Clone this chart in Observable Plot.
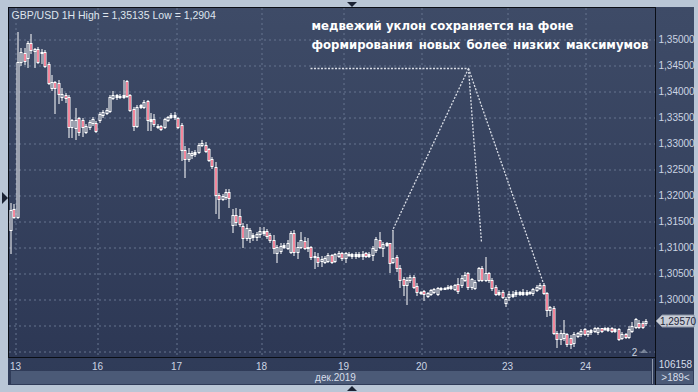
<!DOCTYPE html>
<html><head><meta charset="utf-8">
<script src="https://cdn.jsdelivr.net/npm/d3@7"></script>
<script src="https://cdn.jsdelivr.net/npm/@observablehq/plot@0.6"></script>
<style>
html,body{margin:0;padding:0;background:#b9c6d6;}
#wrap{position:relative;width:698px;height:392px;overflow:hidden;font-family:"Liberation Sans",Arial,sans-serif;}
.abs{position:absolute;}
#panel{left:8px;top:7px;width:686px;height:378px;background:linear-gradient(#3e4b67,#2f3b58);}
#plotbg{left:8px;top:7px;width:646px;height:349px;border:1px solid #0a0e16;background:linear-gradient(#3e4b67,#2d3855);}
#band{left:11px;top:371px;width:640px;height:13px;background:#4b5a77;}
#band2{left:656px;top:371px;width:37px;height:13px;background:#4b5a77;}
#sep{left:652px;top:359px;width:1px;height:25px;background:#8e98aa;}
#rline{left:655px;top:7px;width:1px;height:378px;background:#0a0e16;}
.tri{width:0;height:0;}
#chart{left:0;top:0;}
</style>
</head><body>
<div id="wrap">
  <div class="abs" id="panel"></div>
  <div class="abs" id="plotbg"></div>
  <div class="abs" id="band"></div>
  <div class="abs" id="band2"></div>
  <div class="abs" id="sep"></div>
  <div class="abs" id="rline"></div>
  <div class="abs tri" style="left:347px;top:2px;border-left:5px solid transparent;border-right:5px solid transparent;border-top:5px solid #1b2334;"></div>
  <div class="abs tri" style="left:2px;top:192px;border-top:6px solid transparent;border-bottom:6px solid transparent;border-left:6px solid #1b2334;"></div>
  <div class="abs tri" style="left:347px;top:386px;border-left:5px solid transparent;border-right:5px solid transparent;border-bottom:5px solid #1b2334;"></div>
  <div class="abs tri" style="left:640px;top:349px;border-left:4px solid transparent;border-right:4px solid transparent;border-bottom:4px solid #7d889b;"></div>
  <div class="abs" id="chart"></div>
</div>
<script>
// ---- data (GBP/USD, 1H bars, Dec 12–24 2019) ----
const open = [1.3131,1.3172,1.3157,1.3455,1.3472,1.3462,1.3491,1.3476,1.3480,1.3472,1.3474,1.3451,1.3405,1.3416,1.3414,1.3387,1.3391,1.3387,1.3330,1.3328,1.3347,1.3343,1.3320,1.3330,1.3337,1.3337,1.3343,1.3353,1.3357,1.3360,1.3386,1.3391,1.3387,1.3387,1.3418,1.3391,1.3364,1.3332,1.3368,1.3368,1.3380,1.3341,1.3345,1.3330,1.3332,1.3330,1.3343,1.3349,1.3349,1.3347,1.3334,1.3286,1.3268,1.3276,1.3278,1.3282,1.3295,1.3295,1.3288,1.3268,1.3253,1.3199,1.3191,1.3195,1.3205,1.3141,1.3160,1.3159,1.3139,1.3116,1.3116,1.3118,1.3118,1.3124,1.3130,1.3130,1.3122,1.3112,1.3088,1.3091,1.3099,1.3097,1.3089,1.3126,1.3089,1.3099,1.3111,1.3097,1.3099,1.3080,1.3080,1.3072,1.3070,1.3072,1.3084,1.3072,1.3082,1.3088,1.3078,1.3084,1.3086,1.3082,1.3086,1.3082,1.3088,1.3082,1.3084,1.3093,1.3112,1.3097,1.3103,1.3107,1.3070,1.3080,1.3059,1.3037,1.3026,1.3036,1.3041,1.3024,1.3011,1.3014,1.3005,1.3009,1.3012,1.3009,1.3018,1.3018,1.3020,1.3024,1.3018,1.3028,1.3026,1.3036,1.3049,1.3022,1.3020,1.3036,1.3059,1.3036,1.3049,1.3036,1.3022,1.3009,1.3012,1.2991,1.3003,1.3005,1.3009,1.3012,1.3009,1.3009,1.3012,1.3011,1.3016,1.3020,1.3026,1.3011,1.2978,1.2982,1.2934,1.2922,1.2924,1.2932,1.2924,1.2914,1.2928,1.2932,1.2941,1.2932,1.2936,1.2937,1.2936,1.2943,1.2941,1.2943,1.2943,1.2937,1.2941,1.2924,1.2932,1.2926,1.2937,1.2945,1.2953,1.2953,1.2953];
const high = [1.3184,1.3182,1.35135,1.3482,1.3482,1.3495,1.3509,1.3482,1.3484,1.3480,1.3478,1.3455,1.3430,1.3418,1.3420,1.3405,1.3395,1.3391,1.3345,1.3366,1.3349,1.3347,1.3336,1.3343,1.3349,1.3341,1.3359,1.3362,1.3366,1.3391,1.3399,1.3393,1.3393,1.3420,1.3420,1.3393,1.3368,1.3372,1.3374,1.3382,1.3382,1.3357,1.3355,1.3336,1.3334,1.3347,1.3351,1.3357,1.3359,1.3349,1.3337,1.3293,1.3289,1.3284,1.3286,1.3299,1.3305,1.3301,1.3289,1.3272,1.3263,1.3203,1.3201,1.3211,1.3211,1.3172,1.3174,1.3172,1.3145,1.3143,1.3136,1.3126,1.3128,1.3137,1.3137,1.3134,1.3126,1.3122,1.3103,1.3107,1.3107,1.3112,1.3130,1.3132,1.3109,1.3128,1.3118,1.3116,1.3101,1.3089,1.3088,1.3082,1.3082,1.3088,1.3086,1.3088,1.3091,1.3089,1.3089,1.3089,1.3088,1.3089,1.3089,1.3091,1.3089,1.3089,1.3101,1.3118,1.3128,1.3109,1.3109,1.3107,1.3132,1.3084,1.3064,1.3041,1.3041,1.3045,1.3045,1.3030,1.3014,1.3016,1.3012,1.3018,1.3020,1.3022,1.3022,1.3022,1.3026,1.3026,1.3028,1.3039,1.3045,1.3051,1.3051,1.3039,1.3036,1.3060,1.3062,1.3080,1.3051,1.3039,1.3026,1.3016,1.3016,1.3003,1.3014,1.3014,1.3016,1.3014,1.3018,1.3016,1.3014,1.3020,1.3026,1.3030,1.3030,1.3012,1.2986,1.2986,1.2937,1.2939,1.2959,1.2934,1.2930,1.2936,1.2936,1.2941,1.2943,1.2939,1.2941,1.2945,1.2945,1.2943,1.2945,1.2945,1.2945,1.2943,1.2943,1.2936,1.2934,1.2947,1.2955,1.2963,1.2959,1.2957,1.2961];
const low = [1.3088,1.3155,1.3155,1.3449,1.3451,1.3445,1.3472,1.3445,1.3453,1.3453,1.3445,1.3413,1.3401,1.3357,1.3376,1.3382,1.3378,1.3310,1.3310,1.3307,1.3314,1.3312,1.3318,1.3326,1.3334,1.3320,1.3339,1.3349,1.3355,1.3359,1.3384,1.3384,1.3386,1.3386,1.3387,1.3360,1.3324,1.3330,1.3366,1.3366,1.3324,1.3324,1.3332,1.3328,1.3324,1.3328,1.3341,1.3347,1.3345,1.3328,1.3266,1.3234,1.3264,1.3270,1.3274,1.3280,1.3293,1.3282,1.3264,1.3251,1.3164,1.3155,1.3189,1.3191,1.3176,1.3128,1.3141,1.3139,1.3099,1.3112,1.3109,1.3112,1.3112,1.3118,1.3122,1.3116,1.3109,1.3088,1.3070,1.3088,1.3097,1.3095,1.3088,1.3084,1.3078,1.3097,1.3095,1.3091,1.3076,1.3059,1.3062,1.3062,1.3068,1.3070,1.3068,1.3070,1.3080,1.3074,1.3070,1.3082,1.3078,1.3078,1.3080,1.3076,1.3080,1.3080,1.3074,1.3089,1.3097,1.3082,1.3101,1.3051,1.3068,1.3053,1.3022,1.3007,1.2989,1.3032,1.3020,1.3007,1.3009,1.2997,1.3003,1.3007,1.3011,1.3007,1.3016,1.3018,1.3018,1.3018,1.3016,1.3011,1.3022,1.3034,1.3018,1.3018,1.3018,1.3034,1.3034,1.3034,1.3032,1.3016,1.3007,1.3007,1.3001,1.2986,1.2997,1.3003,1.3005,1.3007,1.3007,1.3007,1.3009,1.3007,1.3014,1.3018,1.3009,1.2966,1.2968,1.2932,1.2907,1.2912,1.2920,1.2909,1.2905,1.2909,1.2926,1.2928,1.2930,1.2928,1.2932,1.2936,1.2932,1.2936,1.2939,1.2937,1.2936,1.2936,1.2920,1.2922,1.2924,1.2924,1.2936,1.2943,1.2943,1.2943,1.2949];
const close = [1.3170,1.3157,1.3455,1.3474,1.3457,1.3491,1.3478,1.3480,1.3455,1.3474,1.3447,1.3414,1.3416,1.3405,1.3393,1.3393,1.3386,1.3330,1.3343,1.3343,1.3320,1.3330,1.3332,1.3339,1.3345,1.3322,1.3355,1.3359,1.3362,1.3387,1.3391,1.3387,1.3389,1.3391,1.3389,1.3362,1.3332,1.3368,1.3372,1.3378,1.3343,1.3345,1.3336,1.3332,1.3326,1.3345,1.3349,1.3353,1.3353,1.3330,1.3286,1.3268,1.3280,1.3280,1.3282,1.3295,1.3299,1.3284,1.3266,1.3255,1.3199,1.3191,1.3197,1.3205,1.3193,1.3160,1.3147,1.3143,1.3116,1.3136,1.3132,1.3122,1.3124,1.3130,1.3126,1.3120,1.3112,1.3097,1.3099,1.3101,1.3103,1.3107,1.3126,1.3089,1.3099,1.3112,1.3097,1.3099,1.3080,1.3082,1.3070,1.3076,1.3078,1.3084,1.3070,1.3086,1.3088,1.3078,1.3088,1.3086,1.3082,1.3086,1.3082,1.3086,1.3082,1.3086,1.3097,1.3114,1.3099,1.3105,1.3107,1.3068,1.3078,1.3059,1.3036,1.3026,1.3036,1.3041,1.3022,1.3012,1.3012,1.3009,1.3011,1.3016,1.3018,1.3020,1.3020,1.3020,1.3022,1.3020,1.3026,1.3014,1.3039,1.3045,1.3022,1.3037,1.3032,1.3059,1.3036,1.3049,1.3036,1.3020,1.3009,1.3012,1.3003,1.2999,1.3009,1.3009,1.3012,1.3009,1.3012,1.3012,1.3011,1.3018,1.3022,1.3026,1.3011,1.2978,1.2984,1.2934,1.2922,1.2934,1.2934,1.2912,1.2912,1.2932,1.2934,1.2937,1.2932,1.2937,1.2939,1.2943,1.2943,1.2937,1.2943,1.2939,1.2937,1.2941,1.2922,1.2932,1.2926,1.2941,1.2947,1.2961,1.2945,1.2945,1.2957];

// day boundaries (in bar-index units) and their labels
const dayBounds = [1.5, 25.5, 48.5, 73.5, 97.5, 120.5, 145.5, 168.5];
const dayLabels = ["13", "16", "17", "18", "19", "20", "23", "24"];
const monthLabel = "дек.2019";
// price levels
const gridPrices = [1.290,1.295,1.300,1.305,1.310,1.315,1.320,1.325,1.330,1.335,1.340,1.345,1.350];
const labelPrices = [1.300,1.305,1.310,1.315,1.320,1.325,1.330,1.335,1.340,1.345,1.350];
// texts
const titleText = "GBP/USD 1H High = 1,35135 Low = 1,2904";
const annoLine1 = "медвежий уклон сохраняется на фоне";
const annoLine2 = "формирования новых более низких максимумов";
const volText = "106158";
const barsText = ">189<";
const cornerText = "2";
// annotation (bar index, price)
const annoBase = {i: 87.9, p: 1.3443};
const annoApex = {i: 134.2, p: 1.3443};
const annoTargets = [{i: 112, p: 1.3132}, {i: 138, p: 1.3109}, {i: 156, p: 1.3030}];

const bars = open.map((o, k) => ({i: k, o, h: high[k], l: low[k], c: close[k]}));
const yDomain = [1.28875, 1.35587];
const xDomain = [-0.293, 188.93];
const RED = "#e8113a";
const bgInterp = d3.interpolateRgb("#2d3855", "#3e4b67");
const bgAt = p => bgInterp((p - yDomain[0]) / (yDomain[1] - yDomain[0]));
const fmt = d => d.toFixed(5).replace(".", ",");

const annoLinks = [{x1: annoBase.i, y1: annoBase.p, x2: annoApex.i, y2: annoApex.p}]
  .concat(annoTargets.map(t => ({x1: annoApex.i, y1: annoApex.p, x2: t.i, y2: t.p})));

const chart = Plot.plot({
  width: 698, height: 392,
  marginLeft: 9, marginRight: 43, marginTop: 8, marginBottom: 35,
  style: {background: "none", color: "#ccd5e3", fontSize: "10px", fontFamily: "Liberation Sans, Arial, sans-serif", overflow: "visible"},
  x: {domain: xDomain, round: true, ticks: dayBounds, tickFormat: d => dayLabels[dayBounds.indexOf(d)], tickSize: 0, tickPadding: 5, label: null},
  y: {domain: yDomain, round: true, axis: "right", ticks: labelPrices, tickFormat: fmt, tickSize: 0, tickPadding: 3, label: null},
  color: {type: "identity"},
  marks: [
    Plot.ruleY(gridPrices, {stroke: "#66748f", strokeDasharray: "2,3", dy: 0.5}),
    Plot.ruleX(dayBounds, {stroke: "#66748f", strokeDasharray: "2,3", dx: 0.5}),
    Plot.link(annoLinks, {x1: "x1", y1: "y1", x2: "x2", y2: "y2", stroke: "#d9dde6", strokeWidth: 1.3, strokeDasharray: "2,1.5"}),
    Plot.ruleX(bars, {x: "i", y1: "h", y2: "l", stroke: "#ffffff", strokeWidth: 1, dx: 0.5, insetBottom: -1}),
    Plot.ruleX(bars, {x: "i", y1: d => Math.max(d.o, d.c), y2: d => Math.min(d.o, d.c), stroke: "#ffffff", strokeWidth: 3, dx: 0.5, insetBottom: -1}),
    Plot.ruleX(bars, {x: "i", y1: d => Math.max(d.o, d.c), y2: d => Math.min(d.o, d.c),
      stroke: d => Math.abs(d.o - d.c) < 0.0004 ? "none" : (d.c < d.o ? RED : bgAt((d.o + d.c) / 2)),
      strokeWidth: 1, dx: 0.5, insetTop: 1}),
    Plot.text([titleText], {frameAnchor: "top-left", dx: 2, dy: 7, lineAnchor: "middle", textAnchor: "start", fill: "#dfe5ee", fontSize: 10.5}),
    Plot.text([annoLine1], {frameAnchor: "top-left", dx: 302, dy: 17, lineAnchor: "middle", textAnchor: "start", fill: "#ffffff", fontSize: 12.5, fontWeight: "bold", fontFamily: "DejaVu Sans"}),
    Plot.text([annoLine2], {frameAnchor: "top-left", dx: 302, dy: 37, lineAnchor: "middle", textAnchor: "start", fill: "#ffffff", fontSize: 11.6, fontWeight: "bold", fontFamily: "DejaVu Sans"}),
    Plot.text([monthLabel], {frameAnchor: "bottom", dx: 3, dy: 20, lineAnchor: "middle", fill: "#d7deea"}),
    Plot.text([volText], {frameAnchor: "bottom-right", dx: 20, dy: 7, lineAnchor: "middle", textAnchor: "middle", fill: "#d7deea"}),
    Plot.text([barsText], {frameAnchor: "bottom-right", dx: 20, dy: 20, lineAnchor: "middle", textAnchor: "middle", fill: "#d7deea"}),
    Plot.text([cornerText], {frameAnchor: "bottom-right", dx: -21, dy: -5, lineAnchor: "middle", textAnchor: "middle", fill: "#c9d1de"})
  ]
});

// fit the annotation lines to the widths seen in the reference
const svgSel = d3.select(chart);
svgSel.selectAll("text").filter(function() { return this.textContent === annoLine1; })
  .attr("textLength", 262).attr("lengthAdjust", "spacingAndGlyphs");
svgSel.selectAll("text").filter(function() { return this.textContent === annoLine2; })
  .style("word-spacing", "2px").attr("textLength", 337).attr("lengthAdjust", "spacingAndGlyphs");

// current price marker on the right scale
const lastPrice = close[close.length - 1];
const yp = chart.scale("y").apply(lastPrice);
const xr = chart.scale("x").range[1];
const g = svgSel.append("g");
g.append("path")
  .attr("d", `M${xr + 1},${yp} L${xr + 7},${yp - 6} H${xr + 39} V${yp + 6} H${xr + 7} Z`)
  .attr("fill", "#c9ced7").attr("stroke", "#8a93a3").attr("stroke-width", 1);
g.append("text").attr("x", xr + 23).attr("y", yp).attr("dy", "0.35em").attr("text-anchor", "middle")
  .attr("fill", "#1c2437").style("font", "10px 'Liberation Sans', Arial, sans-serif").text(fmt(lastPrice));

document.getElementById("chart").appendChild(chart);
</script>
</body></html>
